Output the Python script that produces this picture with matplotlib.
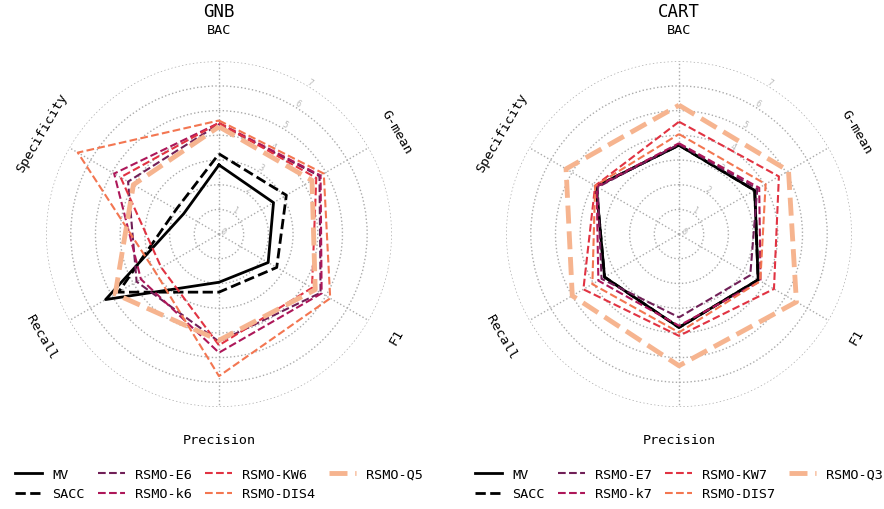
import numpy as np
import matplotlib
matplotlib.use("Agg")
import matplotlib.pyplot as plt
import seaborn as sns

plt.rcParams['font.family'] = ['DejaVu Sans Mono']

# axes of the radar, clockwise from the top
metrics = ["BAC", "G-mean", "F1", "Precision", "Recall", "Specificity"]

# GNB panel
gnb_labels = ["MV", "SACC", "RSMO-E6", "RSMO-k6", "RSMO-KW6", "RSMO-DIS4", "RSMO-Q5"]
gnb_mv = [2.8, 2.55, 2.3, 1.95, 5.3, 1.65]
gnb_sacc = [3.25, 3.15, 2.7, 2.35, 4.7, 2.0]
gnb_e = [4.45, 4.7, 4.75, 4.35, 3.85, 4.25]
gnb_k = [4.5, 4.75, 4.8, 4.8, 3.65, 4.9]
gnb_kw = [4.5, 4.55, 4.35, 4.5, 2.7, 4.6]
gnb_dis = [4.6, 4.9, 5.2, 5.75, 3.0, 6.6]
gnb_q = [4.35, 4.35, 4.5, 4.3, 4.85, 4.0]

# CART panel
cart_labels = ["MV", "SACC", "RSMO-E7", "RSMO-k7", "RSMO-KW7", "RSMO-DIS7", "RSMO-Q3"]
cart_mv = [3.6, 3.54, 3.7, 3.78, 3.48, 3.87]
cart_sacc = [3.6, 3.54, 3.7, 3.78, 3.48, 3.87]
cart_e = [3.64, 3.66, 3.33, 3.37, 3.62, 3.8]
cart_k = [3.68, 3.75, 3.81, 3.71, 3.77, 3.85]
cart_kw = [4.55, 4.67, 4.44, 4.12, 4.47, 3.92]
cart_dis = [4.05, 4.05, 3.8, 3.98, 4.05, 3.92]
cart_q = [5.22, 5.12, 5.49, 5.33, 4.99, 5.28]

rocket = sns.color_palette("rocket", 6)
colors = ["black", "black"] + [rocket[i] for i in range(1, 6)]
styles = ["-", "--", "--", "--", "--", "--", "--"]
widths = [2, 2, 1.5, 1.5, 1.5, 1.5, 3.5]

angles = np.linspace(0, 2 * np.pi, len(metrics), endpoint=False)
closed = np.concatenate([angles, angles[:1]])

fig = plt.figure(figsize=(8.84, 5.10), dpi=100)


def radar(rect, title, labels, series):
    ax = fig.add_axes(rect, projection="polar")
    ax.set_theta_offset(np.pi / 2)
    ax.set_theta_direction(-1)
    for lab, vals, c, ls, lw in zip(labels, series, colors, styles, widths):
        v = list(vals) + [vals[0]]
        ax.plot(closed, v, color=c, ls=ls, lw=lw, label=lab)
    ax.set_ylim(0, 7)
    ax.set_yticks(range(8))
    ax.set_yticklabels([str(i) for i in range(8)], color="#bbbbbb", fontsize=6)
    ax.set_rlabel_position(30)
    ax.tick_params(axis="y", labelrotation=-30)
    ax.set_xticks(angles)
    ax.set_xticklabels([])
    ax.grid(True, ls=":", color="#aaaaaa", lw=1.0)
    ax.spines["polar"].set_visible(False)
    for a, m in zip(angles, metrics):
        d = np.degrees(a)
        rot = (-d + 90) % 180 - 90
        ax.text(a, 8.3, m, rotation=rot, ha="center", va="center",
                rotation_mode="anchor", fontsize=9.7)
    ax.text(0.5, 1.145, title, transform=ax.transAxes, ha="center",
            va="center", fontsize=12.5)
    ax.legend(loc="center", bbox_to_anchor=(0.5, -0.223), ncol=4,
              frameon=False, fontsize=9.7, columnspacing=1.0,
              handletextpad=0.75)
    return ax


radar([0.0520, 0.2, 0.3914, 0.678], "GNB", gnb_labels,
      [gnb_mv, gnb_sacc, gnb_e, gnb_k, gnb_kw, gnb_dis, gnb_q])
radar([0.5724, 0.2, 0.3914, 0.678], "CART", cart_labels,
      [cart_mv, cart_sacc, cart_e, cart_k, cart_kw, cart_dis, cart_q])

fig.savefig("out.png", dpi=100)
